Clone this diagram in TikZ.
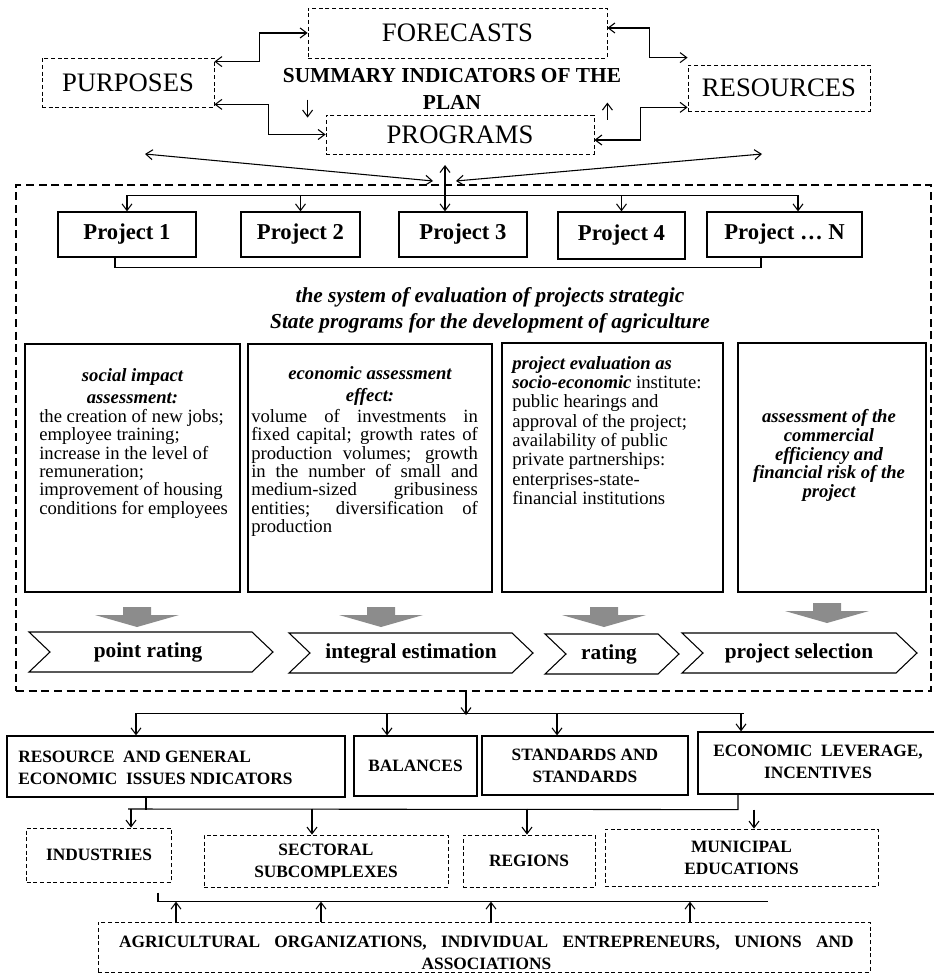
\documentclass[tikz,border=0pt]{standalone}
\usepackage{fontspec}
\setmainfont{Liberation Serif}
\usetikzlibrary{arrows.meta,calc}
\begin{document}
\begin{tikzpicture}[x=0.75pt,y=-0.75pt,
  >={Straight Barb[length=5pt,width=7.5pt]},
  wh/.style 2 args={minimum width=#1*0.75pt, minimum height=#2*0.75pt, inner sep=0pt},
  dbox/.style={draw, dash pattern=on 3pt off 2pt, line width=0.6pt},
  sbox/.style={draw, line width=0.9pt},
  conn/.style={line width=0.8pt},
  topt/.style={font=\fontsize{20}{24}\selectfont},
  proj/.style={sbox, font=\bfseries\fontsize{17}{20}\selectfont},
  body/.style={font=\fontsize{14}{13.75}\selectfont, inner sep=0pt},
  hd/.style={font=\bfseries\itshape\fontsize{14}{17}\selectfont, align=center, inner sep=0pt},
  chevtxt/.style={font=\bfseries\fontsize{16}{19}\selectfont, inner sep=0pt},
  lowtxt/.style={font=\bfseries\fontsize{13}{16.5}\selectfont},
  garrow/.style={fill=black!45},
  chev/.style={draw, line width=0.8pt, fill=white}
]
\useasboundingbox (0,0) rectangle (933,973);

% ---------- top ----------
\node[dbox, wh={172}{49}, topt] (purposes) at (128,82.5) {PURPOSES};
\node[dbox, wh={299}{50}, topt] (forecasts) at (457.5,33) {FORECASTS};
\node[dbox, wh={182}{46}, topt] (resources) at (779,88) {RESOURCES};
\node[dbox, wh={268}{39}, topt] (programs) at (460,134.5) {PROGRAMS};
\node[font=\bfseries\fontsize{16}{20.25}\selectfont, align=center, inner sep=0pt] (summary) at (452,88.5) {SUMMARY INDICATORS OF THE\\PLAN};

\draw[conn,<->] ($(purposes.north east)+(0,4)$) -- ++(45,0) |- (forecasts.west);
\draw[conn,<->] ($(purposes.south east)+(0,-3)$) -- ++(54,0) |- (programs.west);
\draw[conn,<->] ($(forecasts.east)+(0,-5)$) -- ++(42,0) |- ($(resources.north west)+(0,-7)$);
\draw[conn,<->] ($(programs.east)+(0,5.5)$) -- ++(46,0) |- ($(resources.south west)+(0,-4)$);
\draw[conn,->] ($(programs.north west)+(-18,-15)$) -- ++(0,18);
\draw[conn,->] ($(programs.north east)+(13,5)$) -- ++(0,-17);

% ---------- frame and projects ----------
\node[draw, wh={915}{506}, line width=1.6pt, dash pattern=on 6pt off 3.5pt] (frame) at (473.5,438) {};

\node[proj, wh={138}{45}] (p1) at (127,234.5) {Project 1};
\node[proj, wh={119}{45}] (p2) at (300.5,234.5) {Project 2};
\node[proj, wh={128}{45}] (p3) at (463,234.5) {Project 3};
\node[proj, wh={127}{47}] (p4) at (621.5,235.5) {Project 4};
\node[proj, wh={155}{45}] (pn) at (784.5,234.5) {Project \dots\ N};

\coordinate (hubtop) at (445,165);
\coordinate (dl) at (145,154);
\coordinate (dli) at (433,181);
\coordinate (dr) at (762,154);
\coordinate (dri) at (456,181);
\draw[conn,<->] (dl) -- (dli);
\draw[conn,<->] (dr) -- (dri);
\draw[conn,<->] (hubtop) -- (hubtop |- p3.north);

\draw[conn] ($(p1.north)+(0,-16)$) -- ($(pn.north)+(13.5,-16)$);
\draw[conn,->] ($(p1.north)+(0,-16)$) -- (p1.north);
\draw[conn,->] ($(p2.north)+(0,-16)$) -- (p2.north);
\draw[conn,->] ($(p4.north)+(0,-16)$) -- (p4.north);
\draw[conn,->] ($(pn.north)+(13.5,-16)$) -- ($(pn.north)+(13.5,0)$);
\draw[conn] ($(p1.south)+(-12,0)$) -- ++(0,10) -| ($(pn.south)+(-23.5,0)$);

\node[font=\bfseries\itshape\fontsize{16}{19.5}\selectfont, align=center, inner sep=0pt] (evaltitle) at (490,310) {the system of evaluation of projects strategic\\State programs for the development of agriculture};

% ---------- evaluation boxes ----------
\node[sbox, wh={215}{248}] (b1) at (132.5,468) {};
\node[sbox, wh={244}{248}] (b2) at (370,468) {};
\node[sbox, wh={221}{249}] (b3) at (612.5,467.5) {};
\node[sbox, wh={188}{249}] (b4) at (832,467.5) {};

\node[hd, anchor=north] (b1h) at (132.5,368) {social impact\\assessment:};
\node[body, anchor=north west, align=left] (b1t) at (39,409) {the creation of new jobs;\\employee training;\\increase in the level of\\remuneration;\\improvement of housing\\conditions for employees};

\node[hd, anchor=north] (b2h) at (370,366) {economic assessment\\effect:};
\node[body, anchor=north west, align=left] (b2t) at (251,409) {\makebox[170pt][s]{volume of investments in}\\\makebox[170pt][s]{fixed capital; growth rates of}\\\makebox[170pt][s]{production volumes; growth}\\\makebox[170pt][s]{in the number of small and}\\\makebox[170pt][s]{medium-sized gribusiness}\\\makebox[170pt][s]{entities; diversification of}\\production};

\node[body, anchor=north west, align=left, font=\fontsize{14}{14.5}\selectfont] (b3t) at (512,356) {\textbf{\textit{project evaluation as}}\\\textbf{\textit{socio-economic}} institute:\\public hearings and\\approval of the project;\\availability of public\\private partnerships:\\enterprises-state-\\financial institutions};

\node[hd, font=\bfseries\itshape\fontsize{14}{14}\selectfont] (b4t) at (829,455.5) {assessment of the\\commercial\\efficiency and\\financial risk of the\\project};

% ---------- gray arrows and chevrons ----------
\foreach \x/\t in {137/607, 381/607, 604/607, 827/603} {
  \fill[garrow] (\x-14,\t) -- (\x+14,\t) -- (\x+14,\t+8) -- (\x+42,\t+8) -- (\x,\t+20) -- (\x-42,\t+8) -- (\x-14,\t+8) -- cycle;
}
\foreach \l/\r/\tp in {29/273/632, 289/533/633, 545/679/634, 682/917/633} {
  \draw[chev] (\l,\tp) -- (\r-21,\tp) -- (\r,\tp+20) -- (\r-21,\tp+40) -- (\l,\tp+40) -- (\l+21,\tp+20) -- cycle;
}
\node[chevtxt] (c1) at (148,652) {point rating};
\node[chevtxt] (c2) at (411,653) {integral estimation};
\node[chevtxt] (c3) at (609,654) {rating};
\node[chevtxt] (c4) at (799,653) {project selection};

% ---------- lower part ----------
\node[sbox, wh={338}{61}] (res) at (176,766.5) {};
\node[lowtxt, anchor=west, align=left, inner sep=0pt] (rest) at (18,768) {RESOURCE\ \ AND GENERAL\\ECONOMIC\ \ ISSUES NDICATORS};
\node[sbox, wh={123}{60}, lowtxt] (bal) at (415.5,766) {BALANCES};
\node[sbox, wh={206}{59}, lowtxt, align=center] (std) at (585,765.5) {STANDARDS AND\\STANDARDS};
\node[sbox, wh={242}{62}] (econ) at (819,763) {};
\node[lowtxt, align=center, inner sep=0pt] (econt) at (818,762) {ECONOMIC\ \ LEVERAGE,\\INCENTIVES};

\draw[conn,->] ($(frame.south)+(-7.5,0)$) -- ++(0,23);
\draw[conn] ($(res.north)+(-40,-22)$) -- ($(econ.north)+(-75,-18)$);
\draw[conn,->] ($(res.north)+(-40,-22)$) -- ++(0,22);
\draw[conn,->] ($(bal.north)+(-28.5,-22)$) -- ++(0,22);
\draw[conn,->] ($(std.north)+(-28,-22)$) -- ++(0,22);
\draw[conn,->] ($(econ.north)+(-78,-18)$) -- ++(0,18);

\node[dbox, wh={145}{54}, lowtxt] (ind) at (99,855) {INDUSTRIES};
\node[dbox, wh={244}{52}, lowtxt, align=center] (sec) at (326,861) {SECTORAL\\SUBCOMPLEXES};
\node[dbox, wh={132}{52}, lowtxt] (reg) at (529,861) {REGIONS};
\node[dbox, wh={273}{57}, lowtxt, align=center] (mun) at (741.5,857.5) {MUNICIPAL\\EDUCATIONS};

\coordinate (hl) at (128,809);
\draw[conn] (hl) -- ($(econ.south)+(-81,15)$) -- ($(econ.south)+(-81,0)$);
\draw[conn] ($(res.south)+(-30,0)$) -- ($(res.south)+(-30,12)$);
\draw[conn,->] ($(ind.north)+(32,-19)$) -- ++(0,19);
\draw[conn,->] ($(sec.north)+(-14,-26)$) -- ++(0,26);
\draw[conn,->] ($(reg.north)+(-2,-26)$) -- ++(0,26);
\draw[conn,->] ($(mun.north)+(12.5,-19)$) -- ++(0,19);

\node[dbox, wh={772}{50}] (agri) at (484,947) {};
\node[lowtxt, align=center, inner sep=0pt] (agrit) at (486.5,952.5) {\makebox[551pt][s]{AGRICULTURAL ORGANIZATIONS, INDIVIDUAL ENTREPRENEURS, UNIONS AND}\\ASSOCIATIONS};

\draw[conn] ($(agri.north)+(-326,-29)$) -- ($(agri.north)+(-326,-20)$) -- ($(agri.north)+(284,-20)$);
\draw[conn,->] ($(agri.north)+(-308,0)$) -- ++(0,-20);
\draw[conn,->] ($(agri.north)+(-163,0)$) -- ++(0,-20);
\draw[conn,->] ($(agri.north)+(7,0)$) -- ++(0,-20);
\draw[conn,->] ($(agri.north)+(206,0)$) -- ++(0,-20);
\end{tikzpicture}
\end{document}
